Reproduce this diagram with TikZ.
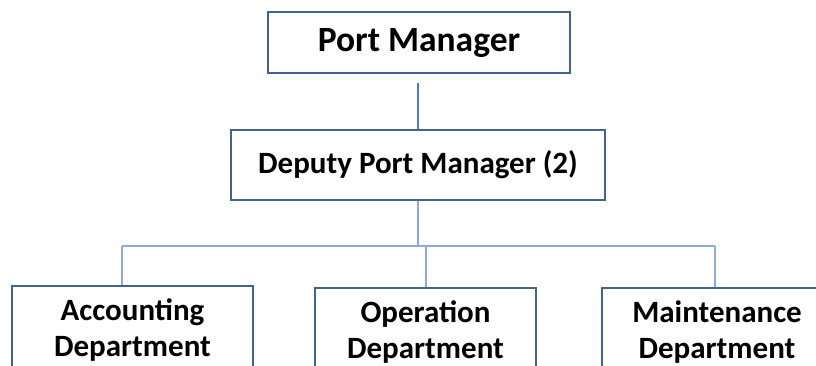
\documentclass[tikz,border=0pt]{standalone}
\usepackage{fontspec}
\setmainfont{Carlito}
\definecolor{boxline}{HTML}{41638F}
\definecolor{topline}{HTML}{4A7CC4}
\definecolor{conline}{HTML}{8FAAD6}
\begin{document}
\begin{tikzpicture}[x=1pt,y=-1pt,
  box/.style={draw=boxline,line width=2pt,fill=white,inner sep=0pt,align=center,font=\bfseries\fontsize{31}{36}\selectfont},
  conn/.style={draw=conline,line width=1.6pt},
  conntop/.style={draw=topline,line width=1.4pt}]
\clip (0,0) rectangle (816,365);
\useasboundingbox (0,0) rectangle (816,365);
\node[box,minimum width=302pt,minimum height=61pt,font=\bfseries\fontsize{35.5}{40}\selectfont] (pm) at (419,42.5) {Port Manager};
\node[box,minimum width=374pt,minimum height=70pt] (dpm) at (418,164.5) {Deputy Port Manager (2)};
\node[box,minimum width=241pt,minimum height=88pt,anchor=north] (acc) at (132.5,285) {Accounting\\Department};
\node[box,minimum width=221pt,minimum height=88pt,anchor=north] (ops) at (425.5,287) {Operation\\Department};
\node[box,minimum width=230pt,minimum height=88pt,anchor=north] (mnt) at (717,287) {Maintenance\\Department};
\coordinate (top) at (418,83);
\coordinate (hub) at (418,246);
\coordinate (jl) at (122,246);
\coordinate (jm) at (426,246);
\coordinate (jr) at (715,246);
\draw[conntop] (top) -- (dpm.north);
\draw[conn] (dpm.south) -- (hub);
\draw[conn] (jl) -- (jr);
\draw[conn] (jl) -- (jl |- acc.north);
\draw[conn] (jm) -- (jm |- ops.north);
\draw[conn] (jr) -- (jr |- mnt.north);
\end{tikzpicture}
\end{document}
